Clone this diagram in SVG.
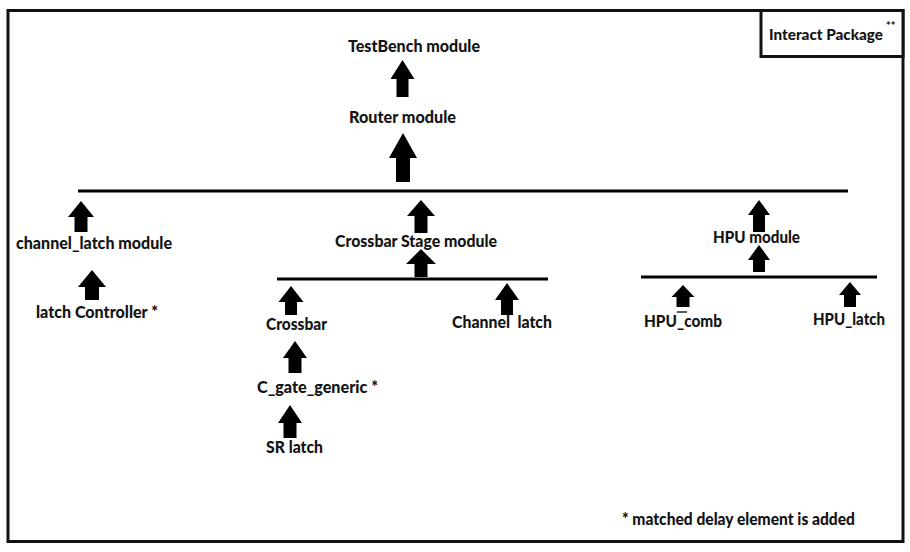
<svg xmlns="http://www.w3.org/2000/svg" width="910" height="552" viewBox="0 0 910 552">
<style>
.t{font-family:"Lato","Liberation Sans",sans-serif;font-weight:900;font-size:17.5px;fill:#141414}
.a{fill:#000}
.ln{stroke:#000;stroke-width:3;fill:none}
</style>
<rect x="0" y="0" width="910" height="552" fill="#fff"/>
<rect id="frame" x="8" y="10.5" width="895" height="531" fill="none" stroke="#111" stroke-width="3"/>
<g id="interact-package">
<rect x="761" y="10.5" width="142" height="46" fill="#fff" stroke="#111" stroke-width="3"/>
<text class="t" x="769" y="40" style="font-size:15.5px" textLength="114" lengthAdjust="spacingAndGlyphs">Interact Package</text>
<text class="t" x="886" y="30" style="font-size:11px">**</text>
</g>
<g id="connectors">
<line class="ln" x1="78" y1="191" x2="848" y2="191"/>
<line class="ln" x1="277" y1="279" x2="548" y2="279"/>
<line class="ln" x1="641" y1="277" x2="877" y2="277"/>
<polygon class="a" points="402.5,60 414.5,79 408.5,79 408.5,97 396.5,97 396.5,79 390.5,79"/>
<polygon class="a" points="403,133 417,158 410,158 410,182 396,182 396,158 389,158"/>
<polygon class="a" points="81,201 94,217 87.5,217 87.5,232 74.5,232 74.5,217 68,217"/>
<polygon class="a" points="92,270 106,287 99,287 99,300 85,300 85,287 78,287"/>
<polygon class="a" points="421,200 435,216 427.5,216 427.5,233 414.5,233 414.5,216 407,216"/>
<polygon class="a" points="421,249 436,264 427.5,264 427.5,277 414.5,277 414.5,264 406,264"/>
<polygon class="a" points="291,286 303.5,302 297,302 297,315 285,315 285,302 278.5,302"/>
<polygon class="a" points="507,283 519,300 513,300 513,315 501,315 501,300 495,300"/>
<polygon class="a" points="295,341 307,358 301.5,358 301.5,373 288.5,373 288.5,358 283,358"/>
<polygon class="a" points="290,405 302,423 296.5,423 296.5,438 283.5,438 283.5,423 278,423"/>
<polygon class="a" points="759,200 770,215 765,215 765,232 753,232 753,215 748,215"/>
<polygon class="a" points="759,245 770,260 765,260 765,272 753,272 753,260 748,260"/>
<polygon class="a" points="683,285 694.5,297 689.5,297 689.5,307 676.5,307 676.5,297 671.5,297"/>
<line x1="677" y1="312" x2="687" y2="312" stroke="#222" stroke-width="1.5"/>
<polygon class="a" points="850,282 861,295 856,295 856,307 844,307 844,295 839,295"/>
</g>
<g id="testbench"><text class="t" x="348" y="52" textLength="132" lengthAdjust="spacingAndGlyphs">TestBench module</text></g>
<g id="router"><text class="t" x="349" y="123" textLength="107" lengthAdjust="spacingAndGlyphs">Router module</text></g>
<g id="channel-latch-module"><text class="t" x="16" y="249" textLength="156" lengthAdjust="spacingAndGlyphs">channel_latch module</text></g>
<g id="latch-controller"><text class="t" x="36" y="318" textLength="122" lengthAdjust="spacingAndGlyphs">latch Controller *</text></g>
<g id="crossbar-stage"><text class="t" x="335" y="247" textLength="162" lengthAdjust="spacingAndGlyphs">Crossbar Stage module</text></g>
<g id="crossbar"><text class="t" x="266" y="330" textLength="61" lengthAdjust="spacingAndGlyphs">Crossbar</text></g>
<g id="channel-latch"><text class="t" x="452" y="328" textLength="100" lengthAdjust="spacingAndGlyphs" xml:space="preserve">Channel  latch</text></g>
<g id="c-gate-generic"><text class="t" x="257" y="393" textLength="121" lengthAdjust="spacingAndGlyphs">C_gate_generic *</text></g>
<g id="sr-latch"><text class="t" x="266" y="453" textLength="57" lengthAdjust="spacingAndGlyphs">SR latch</text></g>
<g id="hpu-module"><text class="t" x="713" y="243" textLength="87" lengthAdjust="spacingAndGlyphs">HPU module</text></g>
<g id="hpu-comb"><text class="t" x="644" y="327" textLength="78" lengthAdjust="spacingAndGlyphs">HPU_comb</text></g>
<g id="hpu-latch"><text class="t" x="813" y="325" textLength="72" lengthAdjust="spacingAndGlyphs">HPU_latch</text></g>
<g id="footnote"><text class="t" x="622" y="525" textLength="233" lengthAdjust="spacingAndGlyphs">* matched delay element is added</text></g>
</svg>
